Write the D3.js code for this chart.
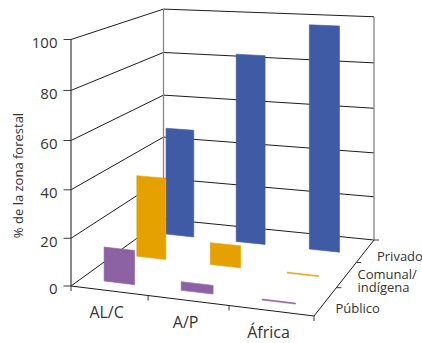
<!DOCTYPE html>
<html>
<head>
<meta charset="utf-8">
<script src="https://cdn.jsdelivr.net/npm/d3@7"></script>
<style>
  html, body { margin: 0; padding: 0; background: #ffffff; }
  svg { display: block; font-family: "Open Sans", "Noto Sans", sans-serif; }
</style>
</head>
<body>
<svg id="chart" width="422" height="343"></svg>
<script>
// ---- data -------------------------------------------------------------
const regions = ["AL/C", "A/P", "África"];
const tenure = ["Público", "Comunal/indígena", "Privado"];
const publico = [14.4, 3.6, 0.4];
const comunal = [35.9, 9.6, 0.4];
const privado = [49.5, 84.5, 98.5];
const tenureValues = [publico, comunal, privado];
const tenureColors = ["#8c62a4", "#e5a100", "#3f5ba6"];
const tenureLabelLines = [["Público"], ["Comunal/", "indígena"], ["Privado"]];
const yTicks = [0, 20, 40, 60, 80, 100];
const yTitle = "% de la zona forestal";

// ---- 3D box projection ------------------------------------------------
// Floor corners on screen: front-left, front-right, back-right, back-left.
const floorQuad = [[71, 286], [314, 316], [374, 240], [163.5, 219]];
const fullHeight = 246.5;   // screen height of the value range at the front-left edge
const pitch = -0.04;        // slight compression of heights toward the floor

function quadMap(q) {
  const [[x0, y0], [x1, y1], [x2, y2], [x3, y3]] = q;
  const dx1 = x1 - x2, dx2 = x3 - x2, dx3 = x0 - x1 + x2 - x3;
  const dy1 = y1 - y2, dy2 = y3 - y2, dy3 = y0 - y1 + y2 - y3;
  const den = dx1 * dy2 - dx2 * dy1;
  const g = (dx3 * dy2 - dx2 * dy3) / den;
  const h = (dx1 * dy3 - dx3 * dy1) / den;
  return {
    a: x1 - x0 + g * x1, b: x3 - x0 + h * x3, c: x0,
    d: y1 - y0 + g * y1, e: y3 - y0 + h * y3, f: y0, g, h
  };
}
const H = quadMap(floorQuad);

// scales: x across regions, y value, z depth
const x = d3.scaleBand().domain(regions).range([0, 1]).paddingInner(0.6).paddingOuter(0.3);
const xAxisBand = d3.scaleBand().domain(regions).range([0, 1]);
const y = d3.scaleLinear().domain([0, 100]).range([0, 1]);
const zRow = d3.scalePoint().domain(tenure).range([0.1, 0.78]);
const zAxisBand = d3.scaleBand().domain(tenure).range([0, 1]);

function lift(v) {
  const t = y(v);
  return t * (1 + pitch) / (1 + pitch * t);
}
function project(xu, v, zu) {
  const w = H.g * xu + H.h * zu + 1;
  return [
    (H.a * xu + H.b * zu + H.c) / w,
    (H.d * xu + H.e * zu + H.f - fullHeight * lift(v)) / w
  ];
}

const svg = d3.select("#chart");
const line = d3.line();
const closed = d3.line().curve(d3.curveLinearClosed);

const gridColor = "#1c1c1c";
const textColor = "#333333";

// ---- walls ------------------------------------------------------------
const walls = svg.append("g").attr("fill", "none");
yTicks.forEach(t => {
  walls.append("path")
    .attr("d", line([project(0, t, 0), project(0, t, 1), project(1, t, 1)]))
    .attr("stroke", gridColor).attr("stroke-width", 1);
});
[0, 1].forEach(xu => {
  walls.append("path")
    .attr("d", line([project(xu, 0, 1), project(xu, 100, 1)]))
    .attr("stroke", "#858585").attr("stroke-width", 1.3);
});

// ---- bars (back row first) ----------------------------------------------
const bars = svg.append("g");
d3.range(tenure.length).reverse().forEach(si => {
  const zu = zRow(tenure[si]);
  regions.forEach((r, ri) => {
    const v = tenureValues[si][ri];
    const x0 = x(r), x1 = x(r) + x.bandwidth();
    bars.append("path")
      .attr("d", closed([project(x0, 0, zu), project(x1, 0, zu), project(x1, v, zu), project(x0, v, zu)]))
      .attr("fill", tenureColors[si])
      .attr("stroke", tenureColors[si]).attr("stroke-width", 0.6);
  });
});

// ---- value axis (front-left edge) ---------------------------------------
const axes = svg.append("g").attr("fill", "none");
axes.append("path")
  .attr("d", line([project(0, 0, 0), project(0, 100, 0)]))
  .attr("stroke", "#3a3a3a").attr("stroke-width", 1.2);
yTicks.forEach(t => {
  const [px, py] = project(0, t, 0);
  axes.append("path").attr("d", line([[px - 7.5, py], [px, py]]))
    .attr("stroke", "#3a3a3a").attr("stroke-width", 1);
  svg.append("text")
    .attr("x", px - 13.5).attr("y", py + 8.3)
    .attr("text-anchor", "end")
    .attr("font-size", 15).attr("fill", textColor)
    .text(t);
});

// ---- category axis (front floor edge) -----------------------------------
axes.append("path")
  .attr("d", line([project(0, 0, 0), project(1, 0, 0)]))
  .attr("stroke", gridColor).attr("stroke-width", 1);
[0, ...regions.slice(1).map(r => xAxisBand(r)), 1].forEach(xu => {
  const [px, py] = project(xu, 0, 0);
  axes.append("path").attr("d", line([[px, py], [px, py + 5]]))
    .attr("stroke", "#3a3a3a").attr("stroke-width", 1);
});
regions.forEach(r => {
  const [px, py] = project(xAxisBand(r) + xAxisBand.bandwidth() / 2, 0, 0);
  svg.append("text")
    .attr("x", px - 2.5).attr("y", py + 27.5)
    .attr("text-anchor", "middle")
    .attr("font-size", 16).attr("fill", textColor)
    .text(r);
});

// ---- depth axis (right floor edge) --------------------------------------
axes.append("path")
  .attr("d", line([project(1, 0, 0), project(1, 0, 1)]))
  .attr("stroke", gridColor).attr("stroke-width", 1);
[...tenure.slice(1).map(s => zAxisBand(s)), 1].forEach(zu => {
  const [px, py] = project(1, 0, zu);
  axes.append("path").attr("d", line([[px, py], [px + 5, py]]))
    .attr("stroke", "#3a3a3a").attr("stroke-width", 1);
});
tenure.forEach((s, si) => {
  const [px, py] = project(1, 0, zRow(s));
  const lines = tenureLabelLines[si];
  const t = svg.append("text")
    .attr("font-size", 13).attr("fill", textColor);
  lines.forEach((ln, i) => {
    t.append("tspan")
      .attr("x", px + 14.5)
      .attr("y", py + 6 + (i - (lines.length - 1) / 2) * 13.5)
      .text(ln);
  });
});

// ---- value axis title ---------------------------------------------------
svg.append("text")
  .attr("transform", "translate(23,175.5) rotate(-90)")
  .attr("text-anchor", "middle")
  .attr("font-size", 13).attr("fill", textColor)
  .text(yTitle);
</script>
</body>
</html>
